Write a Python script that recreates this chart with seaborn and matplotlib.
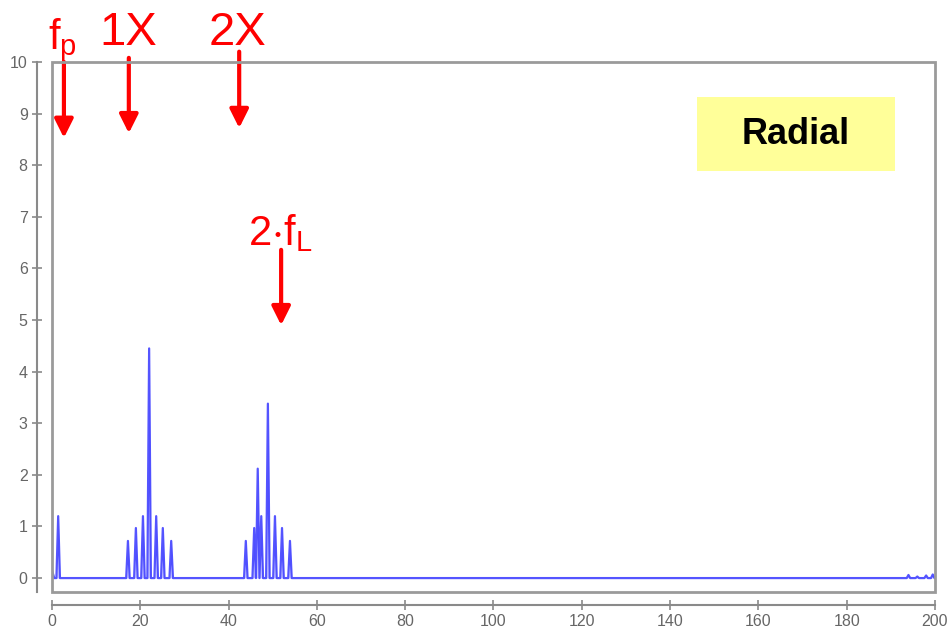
import matplotlib
matplotlib.use("Agg")
import matplotlib.pyplot as plt
from matplotlib.patches import Rectangle
import seaborn as sns
import numpy as np
import pandas as pd

sns.set_theme(style="white")
plt.rcParams['font.family'] = ['Liberation Sans', 'DejaVu Sans']

# spectrum peaks (frequency, amplitude)
peak_freq = [1.4, 17.2, 19.0, 20.6, 22.0, 23.6, 25.1, 27.0,
             43.9, 45.8, 46.6, 47.4, 48.9, 50.5, 52.1, 53.9,
             194.0, 196.0, 198.0, 199.5]
peak_amp = [1.2, 0.72, 0.97, 1.2, 4.45, 1.2, 0.97, 0.72,
            0.72, 0.97, 2.12, 1.2, 3.38, 1.2, 0.97, 0.72,
            0.06, 0.03, 0.05, 0.07]
start_amp = 0.15

# annotation labels and where they point (freq, arrow top, arrow tip)
labels = [r"$\mathregular{f_p}$", "1X", "2X", r"$\mathregular{2{\cdot}f_L}$"]
label_x = [2.3, 17.2, 42.1, 51.6]
label_y = [10.25, 10.33, 10.33, 6.45]
label_size = [30, 34, 34, 30]
arrow_x = [2.7, 17.4, 42.4, 51.9]
arrow_top = [10.0, 10.08, 10.2, 6.36]
arrow_tip = [8.53, 8.62, 8.72, 4.9]

# build the spike trace from the peak list
half = 0.4
xs = [0.0, 0.5]
ys = [start_amp, 0.0]
for f, a in zip(peak_freq, peak_amp):
    xs += [f - half, f, f + half]
    ys += [0.0, a, 0.0]
xs.append(200.0)
ys.append(0.0)
spec = pd.DataFrame({"freq": xs, "amp": ys})

fig = plt.figure(figsize=(9.49, 6.3), dpi=100)
ax = fig.add_axes([0.0548, 0.0603, 0.9304, 0.8413])

sns.lineplot(data=spec, x="freq", y="amp", sort=False, estimator=None,
             color="#2b2bff", lw=1.6, alpha=0.8, ax=ax)
ax.fill_between(spec["freq"], spec["amp"], color="#b0b0ff", alpha=0.45, lw=0)

ax.set_xlim(0, 200)
ax.set_ylim(-0.27, 10)
ax.set_xticks(range(0, 201, 20))
ax.set_yticks(range(0, 11))
ax.set_xlabel("")
ax.set_ylabel("")

for s in ["top", "right"]:
    ax.spines[s].set_visible(False)
for s in ["left", "bottom"]:
    ax.spines[s].set_color("#8a8a8a")
    ax.spines[s].set_linewidth(1.5)
ax.spines["left"].set_position(("outward", 11))
ax.spines["bottom"].set_position(("outward", 9.5))

ax.add_patch(Rectangle((0, 0), 1, 1, transform=ax.transAxes, fill=False,
                       edgecolor="#9a9a9a", lw=2, clip_on=False, zorder=5))

ax.tick_params(axis="both", direction="inout", length=7, width=1.2,
               color="#8a8a8a", labelcolor="#666666", labelsize=11.5,
               bottom=True, left=True, pad=3)

for lab, lx, ly, fs in zip(labels, label_x, label_y, label_size):
    ax.text(lx, ly, lab, color="red", fontsize=fs, ha="center", va="baseline",
            clip_on=False)
for axx, top, tip in zip(arrow_x, arrow_top, arrow_tip):
    ax.annotate("", xy=(axx, tip), xytext=(axx, top), annotation_clip=False,
                arrowprops=dict(arrowstyle="-|>", color="red", lw=3,
                                mutation_scale=28, shrinkA=0, shrinkB=0))

fig.patches.append(Rectangle((0.7345, 0.7286), 0.2086, 0.1175,
                             transform=fig.transFigure, facecolor="#ffff99",
                             edgecolor="none", zorder=6))
fig.text(0.8388, 0.7873, "Radial", fontsize=26, fontweight="bold",
         color="black", ha="center", va="center", zorder=7)

fig.savefig("out.png", dpi=100)
